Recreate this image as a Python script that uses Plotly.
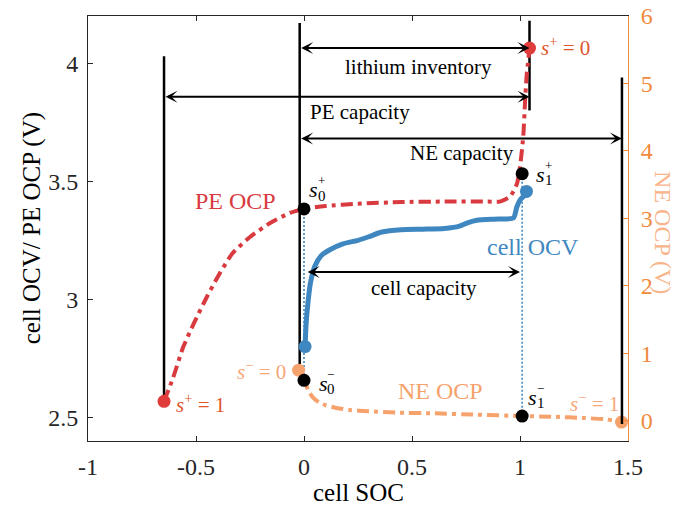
import numpy as np
import plotly.graph_objects as go

# ---------------- data ----------------
pe_soc = [-0.648, -0.606, -0.56, -0.51, -0.45, -0.39, -0.33, -0.25, -0.157, -0.065, 0.0,
          0.1, 0.25, 0.45, 0.65, 0.85, 0.907, 0.954, 0.986, 1.0, 1.015, 1.023, 1.03, 1.044]
pe_ocp = [2.568, 2.668, 2.796, 2.898, 3.01, 3.11, 3.196, 3.264, 3.323, 3.366, 3.383,
          3.395, 3.405, 3.412, 3.414, 3.414, 3.414, 3.435, 3.49, 3.56, 3.69, 3.83, 3.94, 4.064]

ne_soc = [-0.025, 0.0, 0.02, 0.04, 0.07, 0.1, 0.15, 0.21, 0.3, 0.43, 0.6, 0.8, 1.0, 1.15, 1.3, 1.4, 1.47]
ne_ocp = [0.75, 0.60, 0.45, 0.35, 0.27, 0.23, 0.19, 0.16, 0.14, 0.12, 0.11, 0.09, 0.07, 0.06, 0.04, 0.02, -0.02]

cell_soc = [0.005, 0.01, 0.02, 0.03, 0.05, 0.08, 0.12, 0.18, 0.25, 0.3, 0.36, 0.45, 0.55,
            0.65, 0.72, 0.76, 0.8, 0.9, 0.97, 0.985, 1.0, 1.02, 1.03]
cell_ocv = [2.80, 2.90, 3.00, 3.07, 3.14, 3.185, 3.21, 3.235, 3.25, 3.265, 3.285, 3.295, 3.297,
            3.30, 3.31, 3.325, 3.335, 3.34, 3.345, 3.39, 3.42, 3.44, 3.457]

# electrode / cell boundary positions (cell SOC)
pe_full = -0.648      # s+ = 1
pe_empty = 1.044      # s+ = 0
ne_empty = -0.02      # s- = 0 boundary line
ne_full = 1.472       # s- = 1
cell_lo = 0.0
cell_hi = 1.01
s0p_v, s1p_v = 3.383, 3.532   # PE potentials at cell SOC 0 / 1

x_ticks = [-1, -0.5, 0, 0.5, 1, 1.5]
x_ticktext = ["-1", "-0.5", "0", "0.5", "1", "1.5"]
y_ticks = [2.5, 3, 3.5, 4]
y2_ticks = [0, 1, 2, 3, 4, 5, 6]

# ---------------- styling ----------------
FONT = "Liberation Serif"
AX = "#262626"
RED = "#d93a3f"
BLUE = "#3f87c0"
ORANGE = "#f6a26c"
ORANGE_AX = "#f08a3c"
SPLUS = "#e0552c"
SMINUS = "#f7a77a"

Y1 = [2.4, 4.2]
Y2 = [-0.3, 6.0]


def to_left(v):
    return Y1[0] + (v - Y2[0]) * (Y1[1] - Y1[0]) / (Y2[1] - Y2[0])


def to_right(v):
    return Y2[0] + (v - Y1[0]) * (Y2[1] - Y2[0]) / (Y1[1] - Y1[0])


s0m_r = float(np.interp(cell_lo, ne_soc, ne_ocp))
s1m_r = float(np.interp(cell_hi, ne_soc, ne_ocp))
s0m_v = to_left(s0m_r)
s1m_v = to_left(s1m_r)

fig = go.Figure()

# black boundary lines
for xv, y0, y1 in [(pe_full, pe_ocp[0], 4.03), (ne_empty, 2.725, 4.17), (pe_empty, 3.80, 4.18)]:
    fig.add_trace(go.Scatter(x=[xv, xv], y=[y0, y1], mode="lines",
                             line=dict(color="black", width=2.5), hoverinfo="skip"))

# dotted blue connectors
fig.add_trace(go.Scatter(x=[cell_lo, cell_lo], y=[s0p_v, s0m_v], mode="lines",
                         line=dict(color=BLUE, width=1.6, dash="2px,2px")))
fig.add_trace(go.Scatter(x=[cell_hi, cell_hi], y=[s1p_v, s1m_v], mode="lines",
                         line=dict(color=BLUE, width=1.6, dash="2px,2px")))

# PE OCP
fig.add_trace(go.Scatter(x=pe_soc, y=pe_ocp, mode="lines",
                         line=dict(color=RED, width=4, dash="12px,5px,4px,5px", shape="spline", smoothing=0.6)))
fig.add_trace(go.Scatter(x=[pe_soc[0], pe_soc[-1]], y=[pe_ocp[0], pe_ocp[-1]], mode="markers",
                         marker=dict(color="#e03c3c", size=13)))

# cell OCV
fig.add_trace(go.Scatter(x=cell_soc, y=cell_ocv, mode="lines",
                         line=dict(color=BLUE, width=5, shape="spline", smoothing=0.6)))
fig.add_trace(go.Scatter(x=[cell_soc[0], cell_soc[-1]], y=[cell_ocv[0], cell_ocv[-1]], mode="markers",
                         marker=dict(color=BLUE, size=13)))

# black PE state points
fig.add_trace(go.Scatter(x=[cell_lo, cell_hi], y=[s0p_v, s1p_v],
                         mode="markers", marker=dict(color="black", size=13)))

# NE OCP (right axis)
fig.add_trace(go.Scatter(x=ne_soc, y=ne_ocp, yaxis="y2", mode="lines",
                         line=dict(color=ORANGE, width=4, dash="12px,5px,4px,5px", shape="spline", smoothing=0.6)))
fig.add_trace(go.Scatter(x=[ne_soc[0], ne_soc[-1]], y=[ne_ocp[0], ne_ocp[-1]], yaxis="y2", mode="markers",
                         marker=dict(color=ORANGE, size=13)))
fig.add_trace(go.Scatter(x=[ne_full, ne_full], y=[to_right(2.472), to_right(3.94)], yaxis="y2",
                         mode="lines", line=dict(color="black", width=2.5)))
# black NE state points
fig.add_trace(go.Scatter(x=[cell_lo, cell_hi], y=[s0m_r, s1m_r], yaxis="y2",
                         mode="markers", marker=dict(color="black", size=13)))

ann = []

# double-headed arrows
for x0, x1, yv in [(ne_empty, pe_empty, 4.064), (pe_full, pe_empty, 3.858),
                   (ne_empty, ne_full, 3.681), (cell_lo + 0.01, cell_hi - 0.01, 3.116)]:
    ann.append(dict(x=x1, y=yv, ax=x0, ay=yv, xref="x", yref="y", axref="x", ayref="y",
                    text="", showarrow=True, arrowhead=3, startarrowhead=3, arrowside="end+start",
                    arrowsize=1.0, startarrowsize=1.0, arrowwidth=2, arrowcolor="black",
                    standoff=0, startstandoff=0))


def txt(x, y, s, color="black", size=21, **kw):
    d = dict(x=x, y=y, xref="x", yref="y", text=s, showarrow=False,
             font=dict(family=FONT, size=size, color=color))
    d.update(kw)
    ann.append(d)


txt(0.532, 3.984, "lithium inventory")
txt(0.259, 3.793, "PE capacity")
txt(0.731, 3.618, "NE capacity")
txt(0.556, 3.047, "cell capacity")
txt(-0.319, 3.415, "PE OCP", RED, 24)
txt(1.06, 3.221, "cell OCV", BLUE, 24)
txt(0.63, 2.613, "NE OCP", ORANGE, 24)

txt(1.21, 4.069, "<i>s</i><sup>+</sup> = 0", SPLUS, 21)
txt(-0.48, 2.557, "<i>s</i><sup>+</sup> = 1", SPLUS, 21)
txt(-0.195, 2.698, "<i>s</i><sup>\u2212</sup> = 0", SMINUS, 21)
txt(1.345, 2.562, "<i>s</i><sup>\u2212</sup> = 1", SMINUS, 21)


def s_label(x, y, sup, sub):
    txt(x, y, "<i>s</i>", "black", 22, xanchor="center", yanchor="middle")
    txt(x, y, sup, "black", 13, xanchor="left", yanchor="middle", xshift=2, yshift=9)
    txt(x, y, sub, "black", 15, xanchor="left", yanchor="middle", xshift=2, yshift=-6)


s_label(0.045, 3.465, "+", "0")
s_label(1.095, 3.53, "+", "1")
s_label(0.09, 2.645, "\u2212", "0")
s_label(1.06, 2.585, "\u2212", "1")

# axis titles
ann.append(dict(x=-0.104, y=0.5, xref="paper", yref="paper", text="cell OCV/ PE OCP (V)",
                xanchor="center", yanchor="middle",
                textangle=-90, showarrow=False, font=dict(family=FONT, size=25, color="black")))
ann.append(dict(x=0.5, y=-0.122, xref="paper", yref="paper", text="cell SOC",
                xanchor="center", yanchor="middle",
                showarrow=False, font=dict(family=FONT, size=25, color="black")))
ann.append(dict(x=1.066, y=0.49, xref="paper", yref="paper", text="NE OCP (V)",
                xanchor="center", yanchor="middle",
                textangle=90, showarrow=False, font=dict(family=FONT, size=24, color="#f8b48a")))

fig.update_layout(
    width=677, height=513,
    margin=dict(l=88, r=49, t=16, b=72, autoexpand=False),
    paper_bgcolor="white", plot_bgcolor="white",
    showlegend=False,
    annotations=ann,
    xaxis=dict(range=[-1, 1.5], tickvals=x_ticks, ticktext=x_ticktext, ticks="inside", ticklen=5,
               tickcolor=AX, showline=True, linecolor=AX, linewidth=1, mirror="ticks",
               showgrid=False, zeroline=False, tickfont=dict(family=FONT, size=24, color=AX),
               ticklabelstandoff=4, automargin=False),
    yaxis=dict(range=Y1, tickvals=y_ticks, ticks="inside", ticklen=5, tickcolor=AX,
               showline=True, linecolor=AX, linewidth=1, showgrid=False, zeroline=False,
               tickfont=dict(family=FONT, size=24, color=AX), ticklabelstandoff=4, automargin=False),
    yaxis2=dict(range=Y2, tickvals=y2_ticks, overlaying="y", side="right", ticks="inside",
                ticklen=5, tickcolor=ORANGE_AX, showline=True, linecolor=ORANGE_AX, linewidth=1,
                showgrid=False, zeroline=False, tickfont=dict(family=FONT, size=24, color=ORANGE_AX),
                ticklabelstandoff=7, automargin=False),
)

fig.write_html("out.html")
